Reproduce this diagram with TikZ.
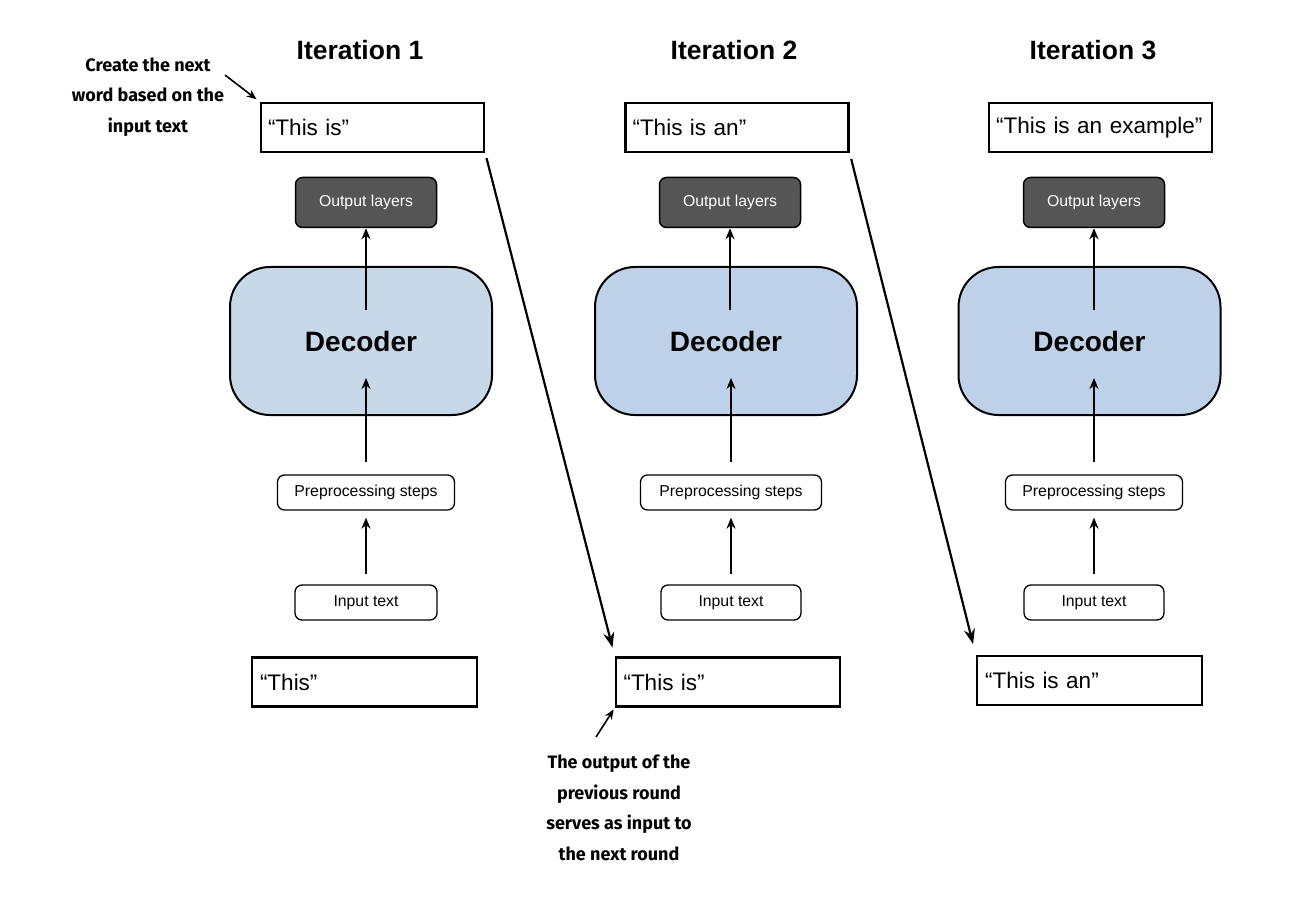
\documentclass[tikz,border=0pt]{standalone}
\usepackage{fontspec}
\setmainfont{Liberation Sans}
\newfontfamily\annfont{Fira Sans}
\usetikzlibrary{arrows.meta}
\definecolor{decA}{HTML}{C7D8E8}
\definecolor{decB}{HTML}{BED1E8}
\definecolor{outgray}{HTML}{555555}
\begin{document}
\begin{tikzpicture}[x=1pt,y=-1pt,
  wordbox/.style={draw, line width=2.5pt, minimum width=223pt, minimum height=49pt,
    text width=209pt, align=left, inner xsep=7pt, font=\fontsize{22.5}{26}\selectfont},
  outbox/.style={draw, fill=outgray, rounded corners=7pt, line width=1.5pt,
    minimum width=141pt, minimum height=50pt, text=white, font=\fontsize{15.8}{18}\selectfont},
  decbox/.style={draw, rounded corners=40pt, line width=2pt, minimum width=262pt,
    minimum height=148pt, font=\bfseries\fontsize{28}{32}\selectfont},
  smallbox/.style={draw, rounded corners=7pt, line width=1.3pt, minimum height=35pt,
    font=\fontsize{15.8}{18}\selectfont},
  title/.style={font=\bfseries\fontsize{26.5}{30}\selectfont},
  ann/.style={align=center, font=\annfont\bfseries\fontsize{18}{30.5}\selectfont},
  flow/.style={-{Stealth[length=11pt,width=9pt]}, line width=2.1pt},
  longarrow/.style={-{Stealth[length=15pt,width=11pt]}, line width=2.2pt},
  annarrow/.style={-{Stealth[length=10pt,width=8pt]}, line width=1.6pt}]
\useasboundingbox (0,0) rectangle (1303,901);

% titles
\node[title] (it1) at (360,50) {Iteration 1};
\node[title] (it2) at (734,50) {Iteration 2};
\node[title] (it3) at (1093,50) {Iteration 3};

% column 1
\node[wordbox] (t1) at (372.5,127.5) {“This is”};
\node[outbox] (o1) at (366,202.5) {Output layers};
\node[decbox, fill=decA] (d1) at (361,341) {Decoder};
\node[smallbox, minimum width=177pt] (p1) at (366,492.5) {Preprocessing steps};
\node[smallbox, minimum width=142pt] (i1) at (366,602.5) {Input text};
\node[wordbox, minimum width=225pt] (b1) at (364.5,682) {“This”};

% column 2
\node[wordbox] (t2) at (737,127.5) {“This is an”};
\node[outbox] (o2) at (730,202.5) {Output layers};
\node[decbox, fill=decB] (d2) at (726,341) {Decoder};
\node[smallbox, minimum width=181pt] (p2) at (731,492.5) {Preprocessing steps};
\node[smallbox, minimum width=140pt] (i2) at (731,602.5) {Input text};
\node[wordbox, minimum width=224pt] (b2) at (728,682) {“This is”};

% column 3
\node[wordbox] (t3) at (1100.5,127.5) {“This is an example”};
\node[outbox] (o3) at (1094,202.5) {Output layers};
\node[decbox, fill=decB] (d3) at (1089.5,341) {Decoder};
\node[smallbox, minimum width=177pt] (p3) at (1094,492.5) {Preprocessing steps};
\node[smallbox, minimum width=140pt] (i3) at (1094,602.5) {Input text};
\node[wordbox, minimum width=225pt] (b3) at (1089.5,680.5) {“This is an”};

% vertical flow arrows
\foreach \c in {1,2,3}{
  \draw[flow] ([yshift=31pt]d\c.center -| o\c.south) -- (o\c.south);
  \draw[flow, shorten <=12pt] (p\c.north) -- ([yshift=-37pt]d\c.center -| p\c.north);
  \draw[flow, shorten <=10pt, shorten >=7pt] (i\c.north) -- (p\c.south);
}

% long arrows
\draw[longarrow, shorten <=5pt, shorten >=9pt] (t1.south east) -- (b2.north west);
\draw[longarrow, shorten <=6pt, shorten >=11pt] (t2.south east) -- (b3.north west);

% annotations
\node[ann] (a1) at (148,97) {Create the next\\word based on the\\input text};
\coordinate (a1s) at (225,75);
\draw[annarrow, shorten >=4pt] (a1s) -- (t1.north west);

\node[ann] (a2) at (619,808) {The output of the\\previous round\\serves as input to\\the next round};
\coordinate (a2s) at (596,737);
\draw[annarrow, shorten >=2pt] (a2s) -- (b2.south west);
\end{tikzpicture}
\end{document}
